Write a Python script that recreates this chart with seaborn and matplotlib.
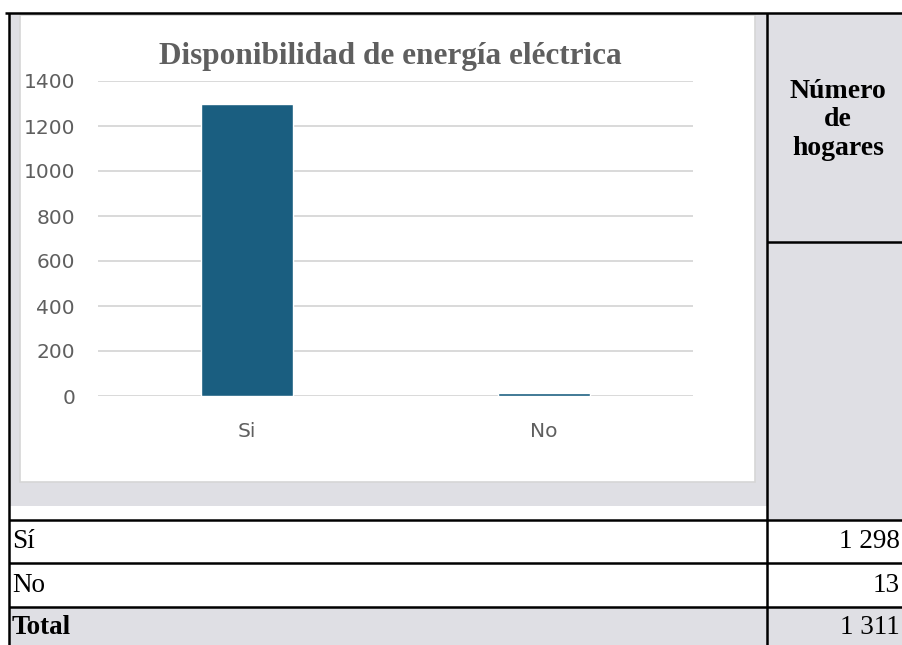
import matplotlib
matplotlib.use("Agg")
import matplotlib.pyplot as plt
import seaborn as sns
from matplotlib.patches import Rectangle


# chart data
categories = ["Si", "No"]
households = [1298, 13]
y_ticks = [0, 200, 400, 600, 800, 1000, 1200, 1400]

# table data
row_labels = ["Sí", "No", "Total"]
row_values = [1298, 13, 1311]
header_text = "Número\nde\nhogares"
chart_title = "Disponibilidad de energía eléctrica"

W, H = 902, 645
GRAY = "#dfdfe4"
BAR = "#1a5e80"
TXT = "#5f5f5f"
SERIF = "Liberation Serif"


def fmt_num(v):
    return f"{v:,}".replace(",", " ")


sns.set_theme(style="white")
plt.rcParams["font.family"] = ["DejaVu Sans"]

fig = plt.figure(figsize=(W / 100, H / 100), dpi=100)
fig.patch.set_facecolor("white")

# background layer in pixel coordinates
bg = fig.add_axes([0, 0, 1, 1], zorder=0)
bg.set_xlim(0, W)
bg.set_ylim(H, 0)
bg.axis("off")

# grey cells
bg.add_patch(Rectangle((9, 13), 758, 493, color=GRAY, lw=0))
bg.add_patch(Rectangle((767, 13), W - 767, 507, color=GRAY, lw=0))
bg.add_patch(Rectangle((9, 607), W - 9, H - 607, color=GRAY, lw=0))

# white chart area
bg.add_patch(Rectangle((20, 15), 735, 467, facecolor="white",
                       edgecolor="#d6d6d6", lw=1.2))

# table lines
line_kw = dict(color="black", lw=1.8, solid_capstyle="butt")
bg.plot([5, W], [13, 13], **line_kw)
bg.plot([9, 9], [13, H], **line_kw)
bg.plot([767, 767], [13, H], **line_kw)
bg.plot([767, W], [242, 242], **line_kw)
for y in [520, 563, 607]:
    bg.plot([9, W], [y, y], **line_kw)

# header cell text
bg.text(838, 120, header_text, ha="center", va="center",
        family=SERIF, fontweight="bold", fontsize=20,
        linespacing=1.2, color="black")

# table rows
row_centers = [541, 585, 627]
for lab, val, yc in zip(row_labels, row_values, row_centers):
    weight = "bold" if lab == "Total" else "normal"
    bg.text(12, yc, lab, ha="left", va="center", family=SERIF,
            fontsize=19.5, fontweight=weight, color="black")
    bg.text(900, yc, fmt_num(val), ha="right", va="center", family=SERIF,
            fontsize=19.5, color="black")

# chart title
bg.text(390, 64, chart_title, ha="center", va="baseline", family=SERIF,
        fontweight="bold", fontsize=22.5, color=TXT)

# bar chart
ax = fig.add_axes([98 / W, (H - 396) / H, 595 / W, 315 / H], zorder=2)
ax.patch.set_alpha(0)
sns.barplot(x=categories, y=households, color=BAR, width=0.31,
            saturation=1, ax=ax)
ax.set_xlim(-0.5, 1.5)
ax.set_ylim(0, 1400)
ax.set_yticks(y_ticks)
ax.yaxis.grid(True, color="#d9d9d9", lw=1.4)
ax.set_axisbelow(True)
for s in ax.spines.values():
    s.set_visible(False)
ax.tick_params(axis="y", length=0, pad=16.5, labelsize=14.5, labelcolor=TXT)
ax.tick_params(axis="x", length=0, pad=19, labelsize=14.5, labelcolor=TXT)
ax.set_xlabel("")
ax.set_ylabel("")

fig.savefig("out.png", dpi=100)
